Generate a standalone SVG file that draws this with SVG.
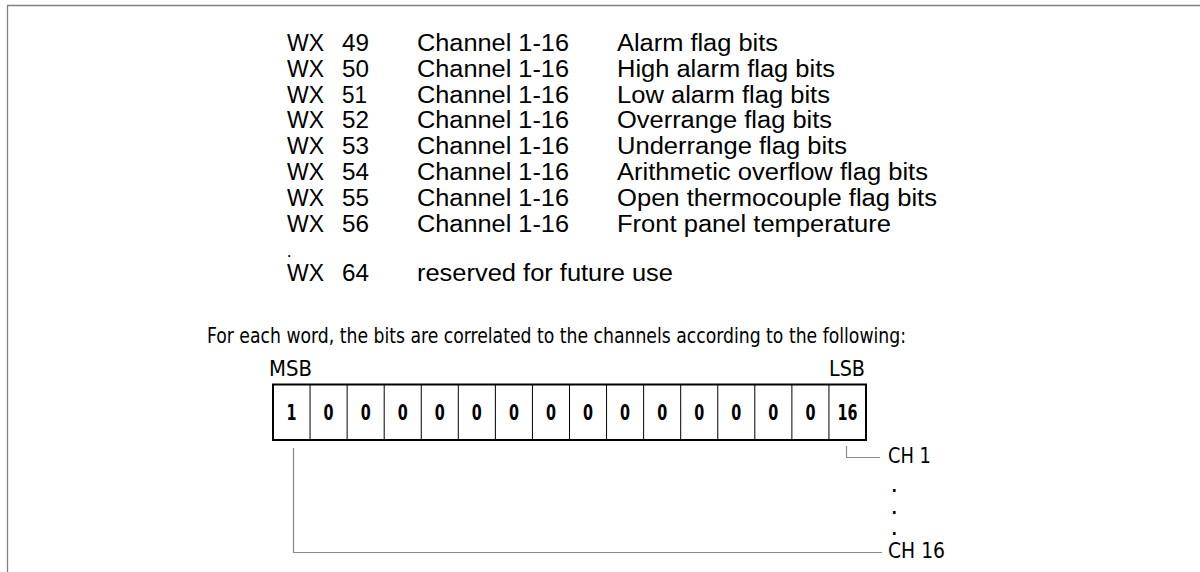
<svg xmlns="http://www.w3.org/2000/svg" width="1200" height="572" viewBox="0 0 1200 572">
<style>
.t{font-family:"Liberation Sans",Arial,sans-serif;font-size:23.5px;fill:#000}
.n{font-family:"Liberation Sans Narrow","DejaVu Sans Condensed","Liberation Sans",sans-serif;font-size:22px;fill:#000}
.d{font-family:"Liberation Sans Narrow","DejaVu Sans Condensed","Liberation Sans",sans-serif;font-size:16px;font-weight:bold;fill:#000}
.b{font-family:"Liberation Sans Narrow","DejaVu Sans Condensed","Liberation Sans",sans-serif;font-size:22px;font-weight:bold;fill:#000}
.frame{stroke:#808080;stroke-width:1.3;fill:none}
.conn{stroke:#8a8a8a;stroke-width:1.2;fill:none}
.cell{stroke:#000;stroke-width:1;fill:none}
</style>
<rect width="1200" height="572" fill="#fff"/>
<g id="frame"><path class="frame" d="M7.5,572 V5.5 H1200"/></g>
<g id="word-list">
<g id="row-49"><text class="t" x="287" y="51" textLength="37" lengthAdjust="spacingAndGlyphs">WX</text><text class="t" x="342" y="51" textLength="27" lengthAdjust="spacingAndGlyphs">49</text><text class="t" x="417" y="51" textLength="152" lengthAdjust="spacingAndGlyphs">Channel 1-16</text><text class="t" x="617" y="51" textLength="161" lengthAdjust="spacingAndGlyphs">Alarm flag bits</text></g>
<g id="row-50"><text class="t" x="287" y="76.7" textLength="37" lengthAdjust="spacingAndGlyphs">WX</text><text class="t" x="342" y="76.7" textLength="27" lengthAdjust="spacingAndGlyphs">50</text><text class="t" x="417" y="76.7" textLength="152" lengthAdjust="spacingAndGlyphs">Channel 1-16</text><text class="t" x="617" y="76.7" textLength="218" lengthAdjust="spacingAndGlyphs">High alarm flag bits</text></g>
<g id="row-51"><text class="t" x="287" y="102.5" textLength="37" lengthAdjust="spacingAndGlyphs">WX</text><text class="t" x="342" y="102.5" textLength="25" lengthAdjust="spacingAndGlyphs">51</text><text class="t" x="417" y="102.5" textLength="152" lengthAdjust="spacingAndGlyphs">Channel 1-16</text><text class="t" x="617" y="102.5" textLength="213" lengthAdjust="spacingAndGlyphs">Low alarm flag bits</text></g>
<g id="row-52"><text class="t" x="287" y="128.3" textLength="37" lengthAdjust="spacingAndGlyphs">WX</text><text class="t" x="342" y="128.3" textLength="27" lengthAdjust="spacingAndGlyphs">52</text><text class="t" x="417" y="128.3" textLength="152" lengthAdjust="spacingAndGlyphs">Channel 1-16</text><text class="t" x="617" y="128.3" textLength="215" lengthAdjust="spacingAndGlyphs">Overrange flag bits</text></g>
<g id="row-53"><text class="t" x="287" y="154" textLength="37" lengthAdjust="spacingAndGlyphs">WX</text><text class="t" x="342" y="154" textLength="27" lengthAdjust="spacingAndGlyphs">53</text><text class="t" x="417" y="154" textLength="152" lengthAdjust="spacingAndGlyphs">Channel 1-16</text><text class="t" x="617" y="154" textLength="230" lengthAdjust="spacingAndGlyphs">Underrange flag bits</text></g>
<g id="row-54"><text class="t" x="287" y="180" textLength="37" lengthAdjust="spacingAndGlyphs">WX</text><text class="t" x="342" y="180" textLength="27" lengthAdjust="spacingAndGlyphs">54</text><text class="t" x="417" y="180" textLength="152" lengthAdjust="spacingAndGlyphs">Channel 1-16</text><text class="t" x="617" y="180" textLength="311" lengthAdjust="spacingAndGlyphs">Arithmetic overflow flag bits</text></g>
<g id="row-55"><text class="t" x="287" y="205.7" textLength="37" lengthAdjust="spacingAndGlyphs">WX</text><text class="t" x="342" y="205.7" textLength="27" lengthAdjust="spacingAndGlyphs">55</text><text class="t" x="417" y="205.7" textLength="152" lengthAdjust="spacingAndGlyphs">Channel 1-16</text><text class="t" x="617" y="205.7" textLength="320" lengthAdjust="spacingAndGlyphs">Open thermocouple flag bits</text></g>
<g id="row-56"><text class="t" x="287" y="231.5" textLength="37" lengthAdjust="spacingAndGlyphs">WX</text><text class="t" x="342" y="231.5" textLength="27" lengthAdjust="spacingAndGlyphs">56</text><text class="t" x="417" y="231.5" textLength="152" lengthAdjust="spacingAndGlyphs">Channel 1-16</text><text class="t" x="617" y="231.5" textLength="274" lengthAdjust="spacingAndGlyphs">Front panel temperature</text></g>
<g id="row-dot"><text x="287.5" y="257" font-family="Liberation Sans, Arial, sans-serif" font-size="12" font-weight="bold" fill="#000">.</text></g>
<g id="row-64"><text class="t" x="287" y="281" textLength="37" lengthAdjust="spacingAndGlyphs">WX</text><text class="t" x="342" y="281" textLength="27" lengthAdjust="spacingAndGlyphs">64</text><text class="t" x="417" y="281" textLength="256" lengthAdjust="spacingAndGlyphs">reserved for future use</text></g>
</g>
<g id="caption"><text class="n" x="207" y="343" textLength="699" lengthAdjust="spacingAndGlyphs">For each word, the bits are correlated to the channels according to the following:</text></g>
<g id="msb"><text class="n" x="269" y="376" textLength="43" lengthAdjust="spacingAndGlyphs">MSB</text></g>
<g id="lsb"><text class="n" x="829" y="376" textLength="36" lengthAdjust="spacingAndGlyphs">LSB</text></g>
<g id="register">
<rect x="273" y="384.5" width="593" height="55.5" fill="#fff" stroke="#000" stroke-width="2"/>
<path class="cell" d="M310.06,384.5V440M347.13,384.5V440M384.19,384.5V440M421.25,384.5V440M458.31,384.5V440M495.38,384.5V440M532.44,384.5V440M569.5,384.5V440M606.56,384.5V440M643.63,384.5V440M680.69,384.5V440M717.75,384.5V440M754.81,384.5V440M791.88,384.5V440M828.94,384.5V440"/>
<text class="b" x="286.5" y="420" textLength="10" lengthAdjust="spacingAndGlyphs">1</text>
<text class="b" x="323.6" y="420" textLength="10" lengthAdjust="spacingAndGlyphs">0</text>
<text class="b" x="360.7" y="420" textLength="10" lengthAdjust="spacingAndGlyphs">0</text>
<text class="b" x="397.7" y="420" textLength="10" lengthAdjust="spacingAndGlyphs">0</text>
<text class="b" x="434.8" y="420" textLength="10" lengthAdjust="spacingAndGlyphs">0</text>
<text class="b" x="471.8" y="420" textLength="10" lengthAdjust="spacingAndGlyphs">0</text>
<text class="b" x="508.9" y="420" textLength="10" lengthAdjust="spacingAndGlyphs">0</text>
<text class="b" x="546" y="420" textLength="10" lengthAdjust="spacingAndGlyphs">0</text>
<text class="b" x="583" y="420" textLength="10" lengthAdjust="spacingAndGlyphs">0</text>
<text class="b" x="620.1" y="420" textLength="10" lengthAdjust="spacingAndGlyphs">0</text>
<text class="b" x="657.2" y="420" textLength="10" lengthAdjust="spacingAndGlyphs">0</text>
<text class="b" x="694.2" y="420" textLength="10" lengthAdjust="spacingAndGlyphs">0</text>
<text class="b" x="731.3" y="420" textLength="10" lengthAdjust="spacingAndGlyphs">0</text>
<text class="b" x="768.3" y="420" textLength="10" lengthAdjust="spacingAndGlyphs">0</text>
<text class="b" x="805.4" y="420" textLength="10" lengthAdjust="spacingAndGlyphs">0</text>
<text class="b" x="837.5" y="420" textLength="20" lengthAdjust="spacingAndGlyphs">16</text>
</g>
<g id="connectors">
<path class="conn" d="M846.5,446 V457.5 H880"/>
<path class="conn" d="M293.5,448 V552.5 H882"/>
</g>
<g id="ch1"><text class="n" x="888" y="463" textLength="43" lengthAdjust="spacingAndGlyphs">CH 1</text></g>
<g id="dots"><text class="d" x="891.5" y="492">.</text><text class="d" x="891.5" y="513.5">.</text><text class="d" x="891.5" y="535">.</text></g>
<g id="ch16"><text class="n" x="888" y="558" textLength="57" lengthAdjust="spacingAndGlyphs">CH 16</text></g>
</svg>
